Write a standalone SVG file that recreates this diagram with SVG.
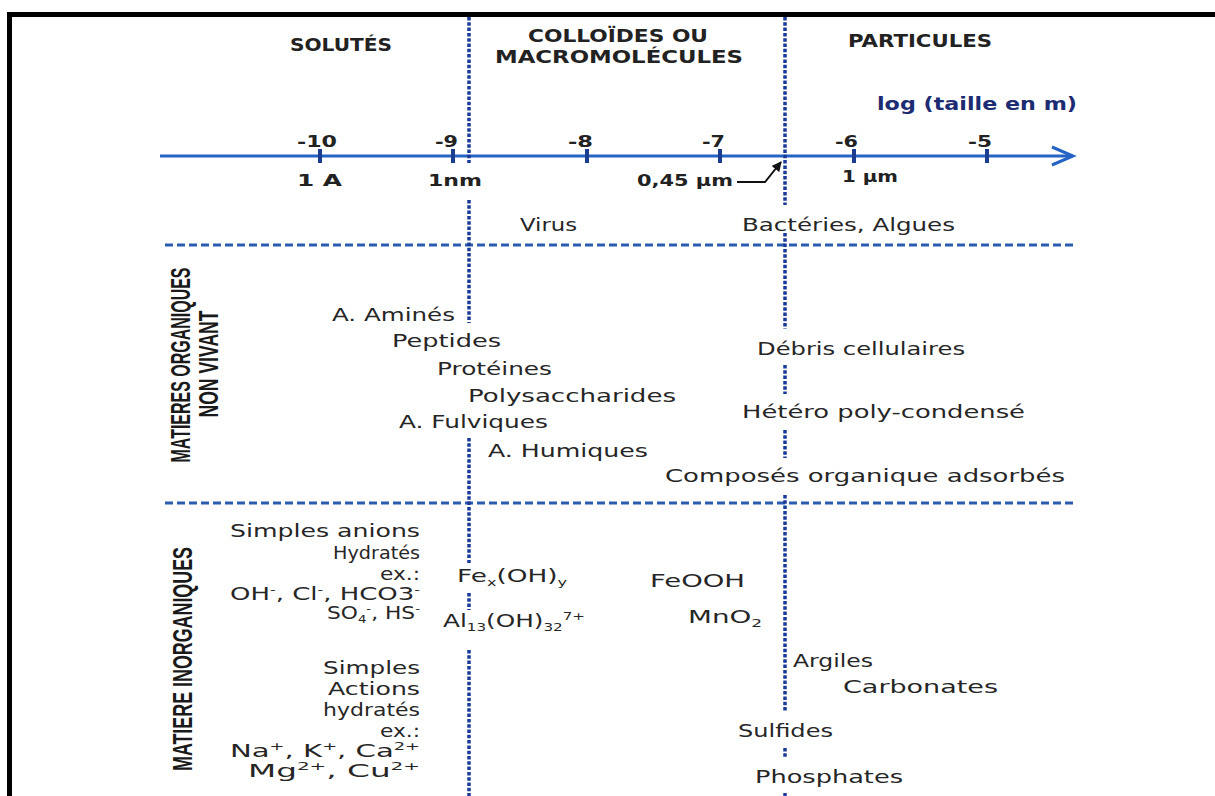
<svg xmlns="http://www.w3.org/2000/svg" width="1215" height="796" viewBox="0 0 1215 796">
<defs>
<style>
.hd{font-family:"DejaVu Sans","Liberation Sans",sans-serif;font-weight:bold;font-size:17px;fill:#222;}
.tk{font-family:"DejaVu Sans","Liberation Sans",sans-serif;font-weight:bold;font-size:16px;fill:#222;}
.lg{font-family:"DejaVu Sans","Liberation Sans",sans-serif;font-weight:bold;font-size:17px;fill:#1d2c72;}
.t{font-family:"DejaVu Sans","Liberation Sans",sans-serif;font-size:18px;fill:#262626;}
.vl{font-family:"Liberation Sans","Arial",sans-serif;font-weight:bold;font-size:27px;fill:#1a1a1a;}
.s{font-size:11px;}
.dot{stroke:#1a3a98;stroke-width:3.5;stroke-dasharray:3.5 1.8;fill:none;}
.dash{stroke:#2a5db0;stroke-width:3;stroke-dasharray:8 4;fill:none;}
.axis{stroke:#2563c4;stroke-width:3;fill:none;}
.tick{fill:#1a3d8f;}
</style>
<marker id="ah" viewBox="0 0 10 10" refX="9" refY="5" markerWidth="5" markerHeight="5" orient="auto">
<path d="M0,0 L10,5 L0,10 z" fill="#111"/>
</marker>
</defs>
<rect width="1215" height="796" fill="#fff"/>
<g id="frame">
<rect x="7" y="12" width="1208" height="5" fill="#000"/>
<rect x="7" y="12" width="5" height="784" fill="#000"/>
</g>
<g id="connectors">
<line class="axis" x1="160" y1="156" x2="1072" y2="156"/>
<polyline class="axis" points="1052,147 1073,156 1052,165"/>
<rect class="tick" x="318" y="149" width="4" height="14"/>
<rect class="tick" x="451" y="149" width="4" height="14"/>
<rect class="tick" x="585" y="149" width="4" height="14"/>
<rect class="tick" x="718" y="149" width="4" height="14"/>
<rect class="tick" x="852" y="149" width="4" height="14"/>
<rect class="tick" x="985" y="149" width="4" height="14"/>
<line class="dash" x1="165" y1="245" x2="1073" y2="245"/>
<line class="dash" x1="165" y1="503" x2="1073" y2="503"/>
<path class="dot" d="M469,17 V163 M469,200 V323 M469,438 V563 M469,593 V610 M469,650 V796"/>
<path class="dot" d="M785,17 V205 M785,233 V329 M785,365 V394 M785,430 V458 M785,495 V712 M785,748 V758 M785,793 V796"/>
<polyline points="737,182 765,182 781,162" fill="none" stroke="#111" stroke-width="2" marker-end="url(#ah)"/>
</g>
<g id="headers">
<text class="hd" x="290" y="51" textLength="102" lengthAdjust="spacingAndGlyphs">SOLUTÉS</text>
<text class="hd" x="528" y="42" textLength="180" lengthAdjust="spacingAndGlyphs">COLLOÏDES OU</text>
<text class="hd" x="495" y="63" textLength="248" lengthAdjust="spacingAndGlyphs">MACROMOLÉCULES</text>
<text class="hd" x="848" y="47" textLength="144" lengthAdjust="spacingAndGlyphs">PARTICULES</text>
<text class="lg" x="877" y="110" textLength="200" lengthAdjust="spacingAndGlyphs">log (taille en m)</text>
</g>
<g id="ticks">
<text class="tk" x="297" y="147" textLength="40" lengthAdjust="spacingAndGlyphs">-10</text>
<text class="tk" x="435" y="147" textLength="23" lengthAdjust="spacingAndGlyphs">-9</text>
<text class="tk" x="568" y="147" textLength="25" lengthAdjust="spacingAndGlyphs">-8</text>
<text class="tk" x="702" y="147" textLength="23" lengthAdjust="spacingAndGlyphs">-7</text>
<text class="tk" x="835" y="147" textLength="23" lengthAdjust="spacingAndGlyphs">-6</text>
<text class="tk" x="968" y="147" textLength="24" lengthAdjust="spacingAndGlyphs">-5</text>
<text class="tk" x="297" y="186" textLength="45" lengthAdjust="spacingAndGlyphs">1 A</text>
<text class="tk" x="428" y="186" textLength="54" lengthAdjust="spacingAndGlyphs">1nm</text>
<text class="tk" x="637" y="186" textLength="96" lengthAdjust="spacingAndGlyphs">0,45 µm</text>
<text class="tk" x="842" y="182" textLength="56" lengthAdjust="spacingAndGlyphs">1 µm</text>
</g>
<g id="organismes">
<text class="t" x="520" y="231" textLength="57" lengthAdjust="spacingAndGlyphs">Virus</text>
<text class="t" x="742" y="231" textLength="213" lengthAdjust="spacingAndGlyphs">Bactéries, Algues</text>
</g>
<g id="label-organiques">
<text class="vl" transform="translate(190,365) rotate(-90)" text-anchor="middle" textLength="195" lengthAdjust="spacingAndGlyphs">MATIERES ORGANIQUES</text>
<text class="vl" transform="translate(218,364) rotate(-90)" text-anchor="middle" textLength="107" lengthAdjust="spacingAndGlyphs">NON VIVANT</text>
</g>
<g id="organiques">
<text class="t" x="332" y="321" textLength="123" lengthAdjust="spacingAndGlyphs">A. Aminés</text>
<text class="t" x="392" y="347" textLength="109" lengthAdjust="spacingAndGlyphs">Peptides</text>
<text class="t" x="437" y="375" textLength="115" lengthAdjust="spacingAndGlyphs">Protéines</text>
<text class="t" x="468" y="402" textLength="208" lengthAdjust="spacingAndGlyphs">Polysaccharides</text>
<text class="t" x="399" y="428" textLength="149" lengthAdjust="spacingAndGlyphs">A. Fulviques</text>
<text class="t" x="488" y="457" textLength="160" lengthAdjust="spacingAndGlyphs">A. Humiques</text>
<text class="t" x="757" y="355" textLength="208" lengthAdjust="spacingAndGlyphs">Débris cellulaires</text>
<text class="t" x="742" y="418" textLength="283" lengthAdjust="spacingAndGlyphs">Hétéro poly-condensé</text>
<text class="t" x="665" y="482" textLength="400" lengthAdjust="spacingAndGlyphs">Composés organique adsorbés</text>
</g>
<g id="label-inorganiques">
<text class="vl" transform="translate(192,659) rotate(-90)" text-anchor="middle" textLength="224" lengthAdjust="spacingAndGlyphs">MATIERE INORGANIQUES</text>
</g>
<g id="inorganiques">
<text class="t" x="230" y="537" textLength="190" lengthAdjust="spacingAndGlyphs">Simples anions</text>
<text class="t" x="333" y="559" textLength="87" lengthAdjust="spacingAndGlyphs">Hydratés</text>
<text class="t" x="380" y="580" textLength="40" lengthAdjust="spacingAndGlyphs">ex.:</text>
<text class="t" x="230" y="600" textLength="190" lengthAdjust="spacingAndGlyphs">OH<tspan class="s" dy="-7">-</tspan><tspan dy="7">, Cl</tspan><tspan class="s" dy="-7">-</tspan><tspan dy="7">, HCO3</tspan><tspan class="s" dy="-7">-</tspan></text>
<text class="t" x="327" y="619" textLength="93" lengthAdjust="spacingAndGlyphs">SO<tspan class="s" dy="4">4</tspan><tspan class="s" dy="-11">-</tspan><tspan dy="7">, HS</tspan><tspan class="s" dy="-7">-</tspan></text>
<text class="t" x="323" y="674" textLength="97" lengthAdjust="spacingAndGlyphs">Simples</text>
<text class="t" x="328" y="695" textLength="92" lengthAdjust="spacingAndGlyphs">Actions</text>
<text class="t" x="323" y="716" textLength="97" lengthAdjust="spacingAndGlyphs">hydratés</text>
<text class="t" x="380" y="737" textLength="40" lengthAdjust="spacingAndGlyphs">ex.:</text>
<text class="t" x="230" y="757" textLength="190" lengthAdjust="spacingAndGlyphs">Na<tspan class="s" dy="-7">+</tspan><tspan dy="7">, K</tspan><tspan class="s" dy="-7">+</tspan><tspan dy="7">, Ca</tspan><tspan class="s" dy="-7">2+</tspan></text>
<text class="t" x="248" y="777" textLength="172" lengthAdjust="spacingAndGlyphs">Mg<tspan class="s" dy="-7">2+</tspan><tspan dy="7">, Cu</tspan><tspan class="s" dy="-7">2+</tspan></text>
<text class="t" x="457" y="582" textLength="110" lengthAdjust="spacingAndGlyphs">Fe<tspan class="s" dy="4">x</tspan><tspan dy="-4">(OH)</tspan><tspan class="s" dy="4">y</tspan></text>
<text class="t" x="443" y="627" textLength="142" lengthAdjust="spacingAndGlyphs">Al<tspan class="s" dy="4">13</tspan><tspan dy="-4">(OH)</tspan><tspan class="s" dy="4">32</tspan><tspan class="s" dy="-11">7+</tspan></text>
<text class="t" x="650" y="587" textLength="95" lengthAdjust="spacingAndGlyphs">FeOOH</text>
<text class="t" x="688" y="623" textLength="74" lengthAdjust="spacingAndGlyphs">MnO<tspan class="s" dy="4">2</tspan></text>
<text class="t" x="793" y="667" textLength="80" lengthAdjust="spacingAndGlyphs">Argiles</text>
<text class="t" x="843" y="693" textLength="155" lengthAdjust="spacingAndGlyphs">Carbonates</text>
<text class="t" x="738" y="737" textLength="95" lengthAdjust="spacingAndGlyphs">Sulfides</text>
<text class="t" x="755" y="783" textLength="148" lengthAdjust="spacingAndGlyphs">Phosphates</text>
</g>
</svg>
